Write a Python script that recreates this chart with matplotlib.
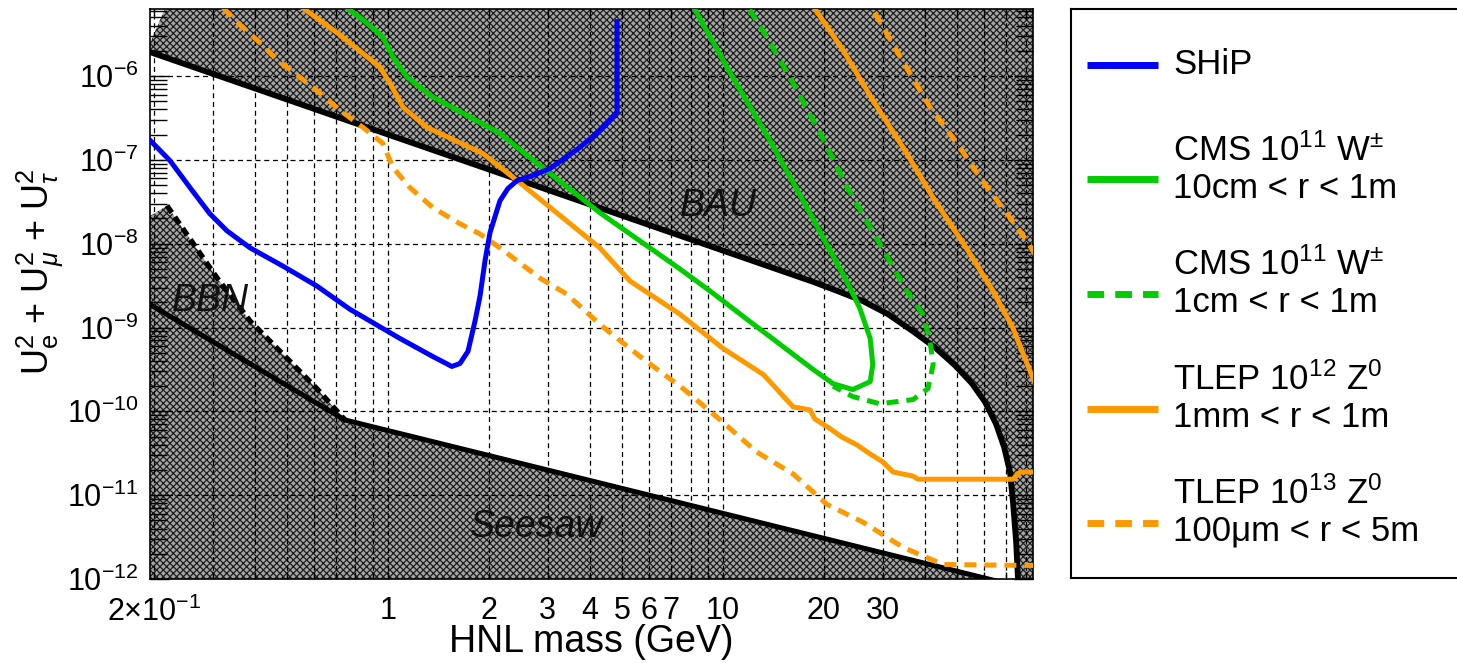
import matplotlib
matplotlib.use('Agg')
import matplotlib.pyplot as plt
from matplotlib.ticker import FixedLocator, FixedFormatter, LogLocator, NullFormatter

plt.rcParams['font.family'] = ['Liberation Sans', 'DejaVu Sans']
plt.rcParams['mathtext.fontset'] = 'custom'
plt.rcParams['mathtext.rm'] = 'Liberation Sans'
plt.rcParams['mathtext.it'] = 'Liberation Sans:italic'
plt.rcParams['mathtext.bf'] = 'Liberation Sans:bold'
plt.rcParams['hatch.linewidth'] = 0.9

# ---- dados (GeV, U^2) ----
bau_m = [0.19, 18.6, 22.35, 26.2, 31.1, 36.9, 42.9, 49.3, 55.4, 60.5, 65.3, 69.0, 71.9,
         73.4, 75.0, 76.0, 76.5]
bau_u = [2.0e-6, 3.5e-9, 2.65e-9, 2.06e-9, 1.44e-9, 9.0e-10, 5.8e-10, 3.52e-10, 2.14e-10,
         1.30e-10, 7.1e-11, 3.77e-11, 1.89e-11, 8.2e-12, 2.75e-12, 9.5e-13, 1e-13]
# canto superior esquerdo sem preenchimento
bau_top_m = [120, 120, 0.216, 0.216, 0.195, 0.19]
bau_top_u = [1e-14, 1e-3, 1e-3, 6.35e-6, 2.49e-6, 2.3e-6]

seesaw_m = [0.19, 0.744, 62.0, 90.0]
seesaw_u = [2.0e-9, 7.9e-11, 1.0e-12, 6.9e-13]

bbn_m = [0.19, 0.219, 0.309, 0.388, 0.486, 0.614, 0.744]
bbn_u = [2.0e-8, 2.84e-8, 3.9e-9, 1.19e-9, 4.8e-10, 1.86e-10, 7.9e-11]

ship_m = [0.195, 0.2235, 0.2565, 0.294, 0.331, 0.388, 0.486, 0.614, 0.770, 1.086, 1.362,
          1.552, 1.64, 1.733, 1.819, 1.883, 1.948, 2.016, 2.16, 2.28, 2.43, 2.65, 3.05,
          3.74, 4.30, 4.83, 4.83]
ship_u = [1.71e-7, 9.8e-8, 4.67e-8, 2.28e-8, 1.42e-8, 8.9e-9, 5.4e-9, 3.12e-9, 1.65e-9,
          7.4e-10, 4.5e-10, 3.43e-10, 3.72e-10, 5.19e-10, 1.19e-9, 2.37e-9, 6.2e-9, 1.35e-8,
          3.26e-8, 4.54e-8, 5.66e-8, 6.3e-8, 7.9e-8, 1.41e-7, 2.25e-7, 3.7e-7, 4.45e-6]

cms1_m = [0.7545, 0.842, 0.966, 1.035, 1.14, 1.362, 1.72, 2.16, 2.43, 3.045, 4.29, 5.65,
          7.44, 9.33, 11.8, 14.8, 18.6, 21.3, 24.4, 27.5, 28.0, 27.5, 25.6, 23.4, 22.3,
          17.8, 13.8, 10.5, 8.25]
cms1_u = [6.5e-6, 4.69e-6, 2.93e-6, 1.69e-6, 9.7e-7, 5.6e-7, 3.4e-7, 2.07e-7, 1.41e-7,
          6.9e-8, 2.34e-8, 1.08e-8, 4.99e-9, 2.57e-9, 1.25e-9, 6.3e-10, 3.15e-10, 2.14e-10,
          1.82e-10, 2.26e-10, 3.6e-10, 7.4e-10, 1.7e-9, 3.58e-9, 5.1e-9, 2.7e-8, 1.71e-7,
          1.09e-6, 6.2e-6]

cms2_m = [12.0, 13.5, 16.2, 19.5, 23.5, 29.4, 35.4, 39.5, 41.5, 42.4, 40.9, 36.9, 29.4,
          24.4, 21.3]
cms2_u = [6.2e-6, 2.94e-6, 8.2e-7, 2.07e-7, 4.67e-8, 9.95e-9, 2.72e-9, 1.44e-9, 6.8e-10,
          3.62e-10, 1.87e-10, 1.38e-10, 1.23e-10, 1.5e-10, 2.0e-10]

tlep12_m = [0.557, 0.705, 0.946, 1.014, 1.109, 1.307, 1.921, 2.43, 4.29, 5.28, 7.44, 10.0,
            13.2, 16.2, 18.2, 18.8, 20.9, 22.6, 25.1, 27.5, 30.0, 32.2, 36.9, 38.2, 73.4,
            77.0, 95.0, 95.0, 84.2, 73.4, 64.0, 52.8, 42.9, 34.9, 28.0, 22.8, 18.8]
tlep12_u = [6.5e-6, 3.28e-6, 1.28e-6, 8.2e-7, 4.25e-7, 2.44e-7, 1.19e-7, 5.66e-8, 8.9e-9,
            3.58e-9, 1.44e-9, 5.63e-10, 2.75e-10, 1.13e-10, 1.04e-10, 8.1e-11, 6.2e-11,
            4.95e-11, 3.98e-11, 3.1e-11, 2.49e-11, 1.89e-11, 1.69e-11, 1.55e-11, 1.55e-11,
            1.89e-11, 1.89e-11, 7.0e-11, 2.46e-10, 9.8e-10, 2.72e-9, 9.4e-9, 3.26e-8,
            1.30e-7, 5.15e-7, 2.05e-6, 6.35e-6]

tlep13_m = [0.322, 0.3616, 0.415, 0.4665, 0.546, 0.627, 0.719, 0.842, 0.966, 1.035, 1.163,
            1.362, 1.64, 1.88, 2.16, 2.84, 3.42, 4.29, 5.65, 7.6, 9.8, 12.6, 16.2, 20.4,
            26.2, 34.5, 45.4, 82.5, 95.0, 95.0, 84.2, 80.8, 70.4, 58.5, 50.0, 41.5, 33.8,
            28.0]
tlep13_u = [6.5e-6, 4.09e-6, 2.49e-6, 1.56e-6, 9.7e-7, 6.25e-7, 3.91e-7, 2.44e-7, 1.57e-7,
            8.1e-8, 4.67e-8, 2.69e-8, 1.73e-8, 1.31e-8, 8.9e-9, 3.89e-9, 2.5e-9, 1.09e-9,
            4.52e-10, 1.87e-10, 7.94e-11, 3.28e-11, 1.79e-11, 7.8e-12, 4.75e-12, 2.38e-12,
            1.49e-12, 1.45e-12, 1.45e-12, 3.6e-9, 8.2e-9, 1.08e-8, 2.28e-8, 6.15e-8,
            1.57e-7, 4.25e-7, 1.69e-6, 6.2e-6]

x_major = [1, 2, 3, 4, 5, 6, 7, 10, 20, 30]
x_labels = ['1', '2', '3', '4', '5', '6', '7', '10', '20', '30']
x_minor = [0.2, 0.3, 0.4, 0.5, 0.6, 0.7, 0.8, 0.9, 8, 9, 40, 50, 60, 70, 80]

legend_names = ['SHiP',
                'CMS 10$^{11}$ W$^{\\pm}$\n10cm < r < 1m',
                'CMS 10$^{11}$ W$^{\\pm}$\n1cm < r < 1m',
                'TLEP 10$^{12}$ Z$^{0}$\n1mm < r < 1m',
                'TLEP 10$^{13}$ Z$^{0}$\n100\u03bcm < r < 5m']

BLUE = '#0000ff'
GREEN = '#00cc00'
ORANGE = '#ff9900'
W, H = 1457, 663

fig = plt.figure(figsize=(W / 100, H / 100), dpi=100)
ax = fig.add_axes([150 / W, 84 / H, 883 / W, 570 / H])
ax.set_xscale('log')
ax.set_yscale('log')
ax.set_xlim(0.1949, 84.2)
ax.set_ylim(1e-12, 6.3e-6)

hatch_kw = dict(facecolor='#a6a6a6', edgecolor='#1e1e1e', hatch='xxxxx', linewidth=0, zorder=0.2)
# regiao BAU (acima da curva)
ax.fill(bau_m + bau_top_m, bau_u + bau_top_u, **hatch_kw)
# BBN + seesaw (em baixo)
ax.fill(bbn_m + seesaw_m[2:] + [120, 0.1], bbn_u + seesaw_u[2:] + [1e-14, 1e-14], **hatch_kw)

ax.plot(bau_m, bau_u, color='black', lw=4.2, zorder=2)
ax.plot(seesaw_m, seesaw_u, color='black', lw=3.6, zorder=2)
ax.plot(bbn_m[1:], bbn_u[1:], color='black', lw=3.8, ls=(0, (1.6, 1.0)), zorder=2)

ax.plot(tlep13_m, tlep13_u, color=ORANGE, lw=3.6, ls=(0, (2.4, 1.6)), zorder=3)
ax.plot(tlep12_m, tlep12_u, color=ORANGE, lw=3.6, zorder=3)
ax.plot(cms2_m, cms2_u, color=GREEN, lw=3.6, ls=(0, (2.4, 1.6)), zorder=4)
ax.plot(cms1_m, cms1_u, color=GREEN, lw=3.6, zorder=4)
ax.plot(ship_m, ship_u, color=BLUE, lw=3.6, zorder=5)

txt = dict(fontsize=27, style='italic', color='#111111', ha='center', va='center', zorder=6)
ax.text(9.66, 2.84e-8, 'BAU', **txt)
ax.text(0.296, 2.06e-9, 'BBN', **txt)
ax.text(2.785, 4.13e-12, 'Seesaw', **txt)

# grade e ticks estilo ROOT
ax.set_axisbelow(True)
ax.xaxis.set_major_locator(FixedLocator(x_major))
ax.xaxis.set_major_formatter(FixedFormatter(x_labels))
ax.xaxis.set_minor_locator(FixedLocator(x_minor))
ax.xaxis.set_minor_formatter(NullFormatter())
ax.yaxis.set_major_locator(LogLocator(base=10, numticks=20))
ax.yaxis.set_minor_locator(LogLocator(base=10, subs=range(2, 10), numticks=20))
ax.yaxis.set_minor_formatter(NullFormatter())
ax.grid(True, axis='x', which='both', color='black', lw=0.9, ls=(0, (4, 3)))
ax.grid(True, axis='y', which='major', color='black', lw=0.9, ls=(0, (4, 3)))
ax.tick_params(axis='both', which='both', direction='in', top=True, right=True,
               labelsize=22, color='black')
ax.tick_params(axis='x', which='both', length=5, width=1, pad=12)
ax.tick_params(axis='y', which='major', length=14, width=1, pad=8)
ax.tick_params(axis='y', which='minor', length=12, width=1)
for sp in ax.spines.values():
    sp.set_linewidth(1.2)
ax.text(0.2, -0.074, '$2{\\times}10^{-1}$', transform=ax.get_xaxis_transform(),
        fontsize=22, ha='center', va='baseline')

fig.text(591 / W, 1 - 642 / H, 'HNL mass (GeV)', fontsize=27, ha='center', va='center')
fig.text(40 / W, 1 - 272 / H,
         '$\\mathrm{U}_{\\mathrm{e}}^{2}$ + $\\mathrm{U}_{\\mu}^{2}$ + $\\mathrm{U}_{\\tau}^{2}$',
         fontsize=26, rotation=90, ha='center', va='center')

# legenda desenhada a mao
lax = fig.add_axes([1071 / W, 85 / H, 400 / W, 569 / H])
lax.set_xlim(1071, 1471)
lax.set_ylim(578, 9)
lax.set_xticks([])
lax.set_yticks([])
for sp in lax.spines.values():
    sp.set_linewidth(1.5)
leg_colors = [BLUE, GREEN, GREEN, ORANGE, ORANGE]
leg_styles = ['-', '-', (0, (2.4, 1.6)), '-', (0, (2.4, 1.6))]
leg_sample_y = [65, 179, 294, 409, 523]
leg_text_y = [74, 198, 312, 427, 541]
for name, c, s, ys, yt in zip(legend_names, leg_colors, leg_styles, leg_sample_y, leg_text_y):
    lax.plot([1087, 1158], [ys, ys], color=c, lw=5, ls=s, solid_capstyle='butt')
    lax.text(1173, yt, name, fontsize=25, ha='left', va='baseline', linespacing=1.15)

fig.savefig('out.png', dpi=100)
